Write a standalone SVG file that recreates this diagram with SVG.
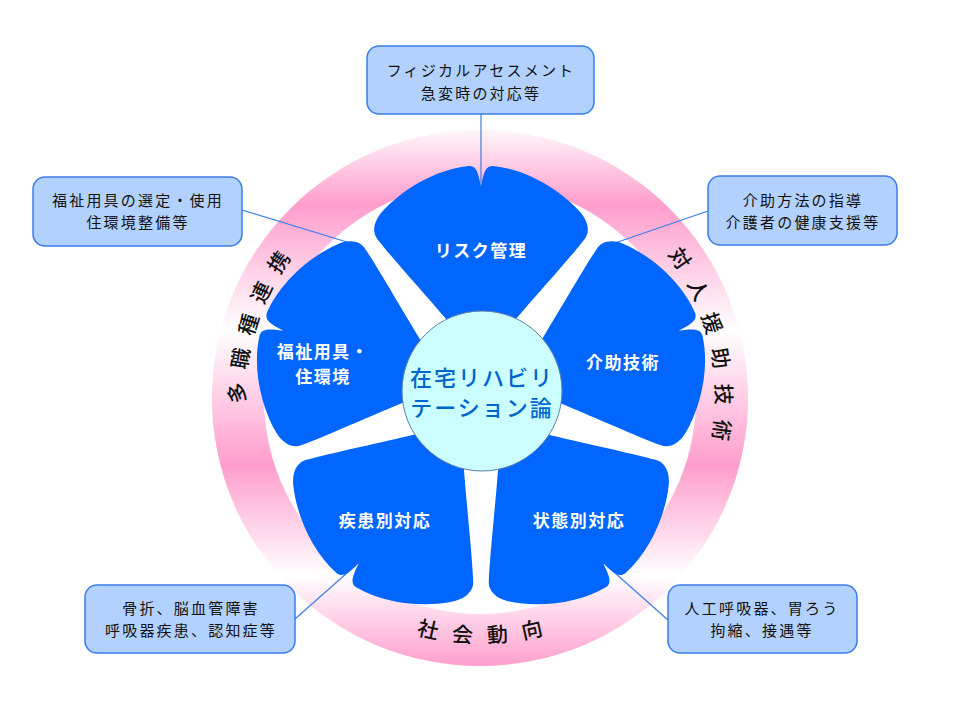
<svg xmlns="http://www.w3.org/2000/svg" xmlns:xlink="http://www.w3.org/1999/xlink" width="960" height="720" viewBox="0 0 960 720">
<style>
.box{fill:#b3d1ff;stroke:#3b7de8;stroke-width:1.5}
.bt{font-family:"Noto Sans CJK JP","Noto Sans CJK SC",sans-serif;font-size:15px;fill:#111;text-anchor:middle;letter-spacing:2.2px}
.pt{font-family:"Noto Sans CJK JP","Noto Sans CJK SC",sans-serif;font-size:17px;font-weight:bold;fill:#fff;text-anchor:middle;letter-spacing:1.5px}
.rt{font-family:"Noto Sans CJK JP","Noto Sans CJK SC",sans-serif;font-size:21px;font-weight:500;fill:#111;text-anchor:middle;dominant-baseline:central}
.ct{font-family:"Noto Sans CJK JP","Noto Sans CJK SC",sans-serif;font-size:22px;font-weight:500;fill:#0066cc;text-anchor:middle;letter-spacing:2px}
.conn{stroke:#3b7de8;stroke-width:1.2;fill:none}
.petal{fill:#0066ff}
</style>
<defs>
<linearGradient id="ringGrad" gradientUnits="userSpaceOnUse" x1="0" y1="130" x2="0" y2="668">
<stop offset="0" stop-color="#fff6fa"/>
<stop offset="0.139" stop-color="#ff9dcc"/>
<stop offset="0.372" stop-color="#ffffff"/>
<stop offset="0.623" stop-color="#ff9dcc"/>
<stop offset="0.827" stop-color="#ffffff"/>
<stop offset="1" stop-color="#ff9dcc"/>
</linearGradient>
<path id="petal" d="M0,-35 L-34,-75 C-58,-103 -88,-136 -103,-155 C-109,-162 -108,-172 -100,-182 C-80,-205 -45,-226 -12,-229 C-6,-229 -3,-226 0,-208 C3,-226 6,-229 12,-229 C45,-226 80,-205 100,-182 C108,-172 109,-162 103,-155 C88,-136 58,-103 34,-75 Z"/>
</defs>
<rect width="960" height="720" fill="#ffffff"/>

<g id="ring">
<path d="M480,130 A268,268 0 1,1 480,666 A268,268 0 1,1 480,130 Z M480,182 A216,216 0 1,0 480,614 A216,216 0 1,0 480,182 Z" fill="url(#ringGrad)" fill-rule="evenodd"/>
<g id="ring-left">
<text class="rt" x="480" y="154" transform="rotate(271.2 480 398)">多</text>
<text class="rt" x="480" y="154" transform="rotate(279.4 480 398)">職</text>
<text class="rt" x="480" y="154" transform="rotate(287.6 480 398)">種</text>
<text class="rt" x="480" y="154" transform="rotate(295.8 480 398)">連</text>
<text class="rt" x="480" y="154" transform="rotate(304 480 398)">携</text>
</g>
<g id="ring-right">
<text class="rt" x="480" y="153" transform="rotate(55.1 480 398)">対</text>
<text class="rt" x="480" y="153" transform="rotate(63.6 480 398)">人</text>
<text class="rt" x="480" y="153" transform="rotate(72.1 480 398)">援</text>
<text class="rt" x="480" y="153" transform="rotate(80.6 480 398)">助</text>
<text class="rt" x="480" y="153" transform="rotate(89.1 480 398)">技</text>
<text class="rt" x="480" y="153" transform="rotate(97.6 480 398)">術</text>
</g>
<g id="ring-bottom">
<text class="rt" x="480" y="634" transform="rotate(12.6 480 398)">社</text>
<text class="rt" x="480" y="634" transform="rotate(4.2 480 398)">会</text>
<text class="rt" x="480" y="634" transform="rotate(-4.2 480 398)">動</text>
<text class="rt" x="480" y="634" transform="rotate(-12.6 480 398)">向</text>
</g>
</g>

<g id="connectors">
<line class="conn" x1="481" y1="114" x2="481" y2="188"/>
<line class="conn" x1="242" y1="210" x2="360" y2="246"/>
<line class="conn" x1="708" y1="211" x2="612" y2="244"/>
<line class="conn" x1="295" y1="619" x2="356" y2="565"/>
<line class="conn" x1="668" y1="620" x2="606" y2="565"/>
</g>

<g id="petal-risk">
<use href="#petal" class="petal" transform="translate(481 395)"/>
<text class="pt" x="481" y="257">リスク管理</text>
</g>
<g id="petal-fukushi">
<use href="#petal" class="petal" transform="translate(481 395) rotate(-72)"/>
<text class="pt" x="323" y="358">福祉用具・</text>
<text class="pt" x="323" y="383">住環境</text>
</g>
<g id="petal-kaijo">
<use href="#petal" class="petal" transform="translate(481 395) rotate(72)"/>
<text class="pt" x="623" y="369">介助技術</text>
</g>
<g id="petal-shikkan">
<use href="#petal" class="petal" transform="translate(481 395) rotate(-144)"/>
<text class="pt" x="385" y="527">疾患別対応</text>
</g>
<g id="petal-jotai">
<use href="#petal" class="petal" transform="translate(481 395) rotate(144)"/>
<text class="pt" x="579" y="527">状態別対応</text>
</g>

<g id="center">
<circle cx="482" cy="391" r="80" fill="#ccffff" stroke="#5a7fa8" stroke-width="1"/>
<text class="ct" x="482" y="386">在宅リハビリ</text>
<text class="ct" x="482" y="416">テーション論</text>
</g>

<g id="box-top">
<rect class="box" x="367" y="46" width="227" height="68" rx="12"/>
<text class="bt" x="481" y="76">フィジカルアセスメント</text>
<text class="bt" x="481" y="99">急変時の対応等</text>
</g>
<g id="box-left">
<rect class="box" x="33" y="177" width="209" height="69" rx="12"/>
<text class="bt" x="138" y="206">福祉用具の選定・使用</text>
<text class="bt" x="138" y="228">住環境整備等</text>
</g>
<g id="box-right">
<rect class="box" x="708" y="176" width="189" height="69" rx="12"/>
<text class="bt" x="803" y="206">介助方法の指導</text>
<text class="bt" x="803" y="228">介護者の健康支援等</text>
</g>
<g id="box-bl">
<rect class="box" x="85" y="585" width="210" height="68" rx="12"/>
<text class="bt" x="191" y="614">骨折、脳血管障害</text>
<text class="bt" x="191" y="636">呼吸器疾患、認知症等</text>
</g>
<g id="box-br">
<rect class="box" x="668" y="585" width="189" height="68" rx="12"/>
<text class="bt" x="762" y="614">人工呼吸器、胃ろう</text>
<text class="bt" x="762" y="636">拘縮、接遇等</text>
</g>
</svg>
